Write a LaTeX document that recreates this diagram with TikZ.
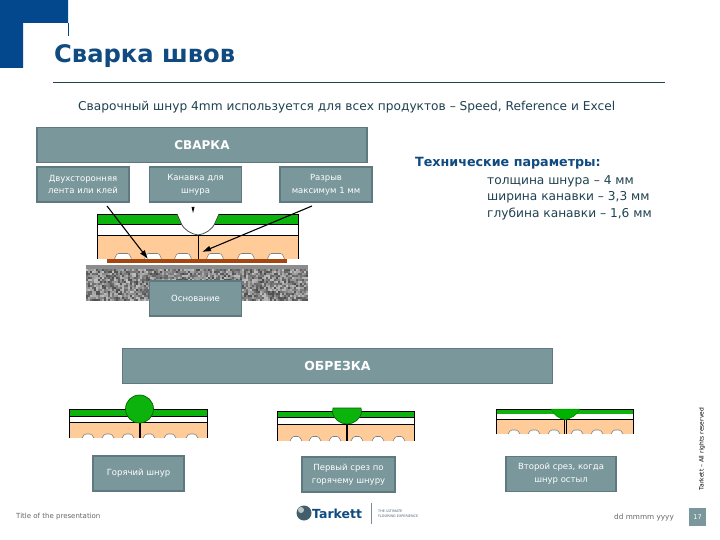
\documentclass[tikz,border=0pt]{standalone}
\usepackage{fontspec}
\setmainfont{DejaVu Sans}
\usetikzlibrary{arrows.meta}
\definecolor{brandblue}{HTML}{03478C}
\definecolor{titleblue}{HTML}{0F4A80}
\definecolor{boxfill}{HTML}{7A979C}
\definecolor{boxedge}{HTML}{5E7A80}
\definecolor{peach}{HTML}{FFCC99}
\definecolor{strip}{HTML}{A5470F}
\definecolor{greenlay}{HTML}{0CB30C}
\definecolor{rule}{HTML}{1F4150}
\tikzset{
  panel/.style={draw=boxedge,fill=boxfill,line width=1.4pt,text=white,inner sep=0pt,outer sep=0pt,align=center,font=\fontsize{8.5}{12.8}\selectfont},
  bar/.style={panel,font=\fontsize{12}{14}\selectfont\bfseries},
  para/.style={inner sep=0pt,anchor=west,text=rule,font=\fontsize{12.2}{14}\selectfont},
  edge/.style={line width=0.9pt,draw=black},
  pointer/.style={line width=1.1pt,-{Latex[length=9pt,width=6pt]}},
  bump/.style={fill=white,draw=black!50,line width=0.6pt}
}
\newcommand{\layers}[6]{% x1,x2,y-green-top,y-green-bottom,y-white-bottom,y-peach-bottom
  \fill[peach] (#1,#5) rectangle (#2,#6);
  \fill[white] (#1,#4) rectangle (#2,#5);
  \fill[greenlay] (#1,#3) rectangle (#2,#4);
  \draw[edge] (#1,#6) -- (#1,#3) -- (#2,#3) -- (#2,#6);
  \draw[edge] (#1,#4) -- (#2,#4) (#1,#5) -- (#2,#5);
}
\newcommand{\bumpat}[4]{% x, half width, top y, bottom y
  \path[bump] (#1-#2,#4) -- (#1-#2+2,#3+1) -- (#1-#2+4,#3) -- (#1+#2-4,#3) -- (#1+#2-2,#3+1) -- (#1+#2,#4);
}
\begin{document}
\begin{tikzpicture}[x=1pt,y=-1pt]
\useasboundingbox (0,0) rectangle (720,540);
\fill[white] (0,0) rectangle (720,540);
% corner mark
\fill[brandblue] (0,0) -- (68,0) -- (68,23) -- (23,23) -- (23,68) -- (0,68) -- cycle;
\draw[brandblue,line width=0.5pt] (68,23) -- (68,36);
\node[anchor=west,inner sep=0pt,text=titleblue,font=\fontsize{24.2}{26}\selectfont\bfseries] (title) at (54,56) {Сварка швов};
\coordinate (ruleL) at (53,82);
\coordinate (ruleR) at (665,82);
\draw[rule,line width=0.7pt] (ruleL) -- (ruleR);
\node[para] (sub) at (78,107) {Сварочный шнур 4mm используется для всех продуктов – Speed, Reference и Excel};
% parameters
\node[para,font=\fontsize{12.7}{14}\selectfont\bfseries,text=titleblue] (tp) at (415,163) {Технические параметры:};
\node[para] (p1) at (487,181) {толщина шнура – 4 мм};
\node[para] (p2) at (487,197) {ширина канавки – 3,3 мм};
\node[para] (p3) at (487,214) {глубина канавки – 1,6 мм};

% concrete
\fill[black!45] (86,265) rectangle (308,269);
\fill[black!50] (86,269) rectangle (308,301);
\pgfmathsetseed{42}
\foreach \i in {0,...,110}{
  \foreach \j in {0,...,15}{
    \pgfmathsetmacro{\shade}{int(25+random(0,45))}
    \fill[black!\shade] (86+2*\i,269+2*\j) rectangle +(2,2);
  }
}
% weld section
\layers{97}{298}{214}{224}{235}{259}
\foreach \x in {123,153,183,215,246,276}{\bumpat{\x}{8.5}{253.5}{259}}
\fill[strip] (107,259) rectangle (287,263);
\fill[white] (177,213.4) -- (219,213.4) -- (215,223) .. controls (212,230) and (205,234) .. (198,235) .. controls (191,234) and (184,230) .. (181,223) -- cycle;
\draw[black!70,line width=0.8pt] (177,214) -- (181,223) .. controls (184,230) and (191,234) .. (198,235) .. controls (205,234) and (212,230) .. (215,223) -- (219,214);
\draw[edge] (198,235) -- (198,259);

% top bar and boxes
\node[bar,minimum width=330pt,minimum height=35pt] (weld) at (202,145) {СВАРКА};
\node[panel,minimum width=92pt,minimum height=35pt] (tape) at (83,184.5) {Двухсторонняя\\лента или клей};
\node[panel,minimum width=92pt,minimum height=35pt] (groove) at (195.5,184.5) {Канавка для\\шнура};
\node[panel,minimum width=92pt,minimum height=35pt] (gap) at (326,184.5) {Разрыв\\максимум 1 мм};
\node[panel,minimum width=92pt,minimum height=35pt] (base) at (195.5,298.5) {Основание};
% pointers
\coordinate (tapeS) at (107,206);
\coordinate (tapeE) at (148,259);
\coordinate (gapS) at (312,206);
\coordinate (gapE) at (202,252);
\draw[pointer] (tapeS) -- (tapeE);
\draw[pointer] (gapS) -- (gapE);
\fill[black] (191.5,207) -- (194.5,207) -- (193,213) -- cycle;

% trimming
\node[bar,font=\fontsize{12.4}{14}\selectfont\bfseries,minimum width=430pt,minimum height=35pt] (trim) at (337.5,366) {ОБРЕЗКА};

\layers{69}{207}{409}{416}{422}{438}
\foreach \x in {88,108,128,149,170,192}{\bumpat{\x}{6}{434}{438}}
\draw[edge,line width=1.2pt] (140,422) -- (140,438);
\node[circle,fill=greenlay,draw=black!60!green,line width=0.7pt,minimum size=28pt,inner sep=0pt] (hot) at (139.5,409) {};
\node[panel,minimum width=91pt,minimum height=35pt] (box1) at (138.5,473.5) {Горячий шнур};

\layers{277}{414}{411}{417}{424}{441}
\foreach \x in {296,315,335,357,378,399}{\bumpat{\x}{6}{436.5}{441}}
\draw[edge,line width=1.2pt] (347,424) -- (347,441);
\path[fill=greenlay,draw=black!60!green,line width=0.7pt] (333,408) -- (361,408) -- (361.5,413) .. controls (360,419) and (354,424) .. (347,424) .. controls (340,424) and (334,419) .. (332.5,413) -- cycle;
\node[panel,minimum width=93pt,minimum height=35pt] (box2) at (348.5,474.5) {Первый срез по\\горячему шнуру};

\layers{496}{633}{409}{414}{419}{434}
\draw[white,line width=1pt] (497,414.5) -- (632.5,414.5);
\foreach \x in {514,534,554,577,597,617}{\bumpat{\x}{6}{430}{434}}
\draw[edge,line width=0.8pt] (564,419) -- (564,434) (566.2,419) -- (566.2,434);
\path[fill=black!30!green,draw=black!50!green,line width=0.5pt] (551,409) -- (580,409) .. controls (577,415) and (571,419) .. (565,419.5) .. controls (559,419) and (554,415) .. (551,409) -- cycle;
\node[panel,minimum width=110pt,minimum height=35pt] (box3) at (561,474) {Второй срез, когда\\шнур остыл};

% footer
\node[anchor=west,inner sep=0pt,text=black!60,font=\fontsize{7}{9}\selectfont] (foot) at (16,517) {Title of the presentation};
\node[anchor=west,inner sep=0pt,text=black!60,font=\fontsize{7.3}{9}\selectfont] (date) at (614,517) {dd mmmm yyyy};
\node[fill=boxfill,text=white,minimum width=17pt,minimum height=18pt,inner sep=0pt,font=\fontsize{6.5}{8}\selectfont] (page) at (697.5,517) {17};
\node[rotate=90,inner sep=0pt,text=black,font=\fontsize{6}{7}\selectfont] (rights) at (702,449) {Tarkett – All rights reserved};
% logo
\node[circle,inner sep=0pt,minimum size=15pt,fill=rule!85,draw=none] (globe) at (304,513) {};
\fill[white!70!rule] (301,510) circle (3pt);
\node[anchor=west,inner sep=0pt,text=titleblue,font=\fontsize{12.5}{14}\selectfont\bfseries] (brand) at (312,513.5) {Tarkett};
\coordinate (sepT) at (371,503);
\coordinate (sepB) at (371,524);
\draw[rule!60,line width=0.7pt] (sepT) -- (sepB);
\node[anchor=west,inner sep=0pt,text=rule!80,align=left,font=\fontsize{3.4}{4.6}\selectfont] (claim) at (378,514) {THE ULTIMATE\\FLOORING EXPERIENCE};
\end{tikzpicture}
\end{document}
